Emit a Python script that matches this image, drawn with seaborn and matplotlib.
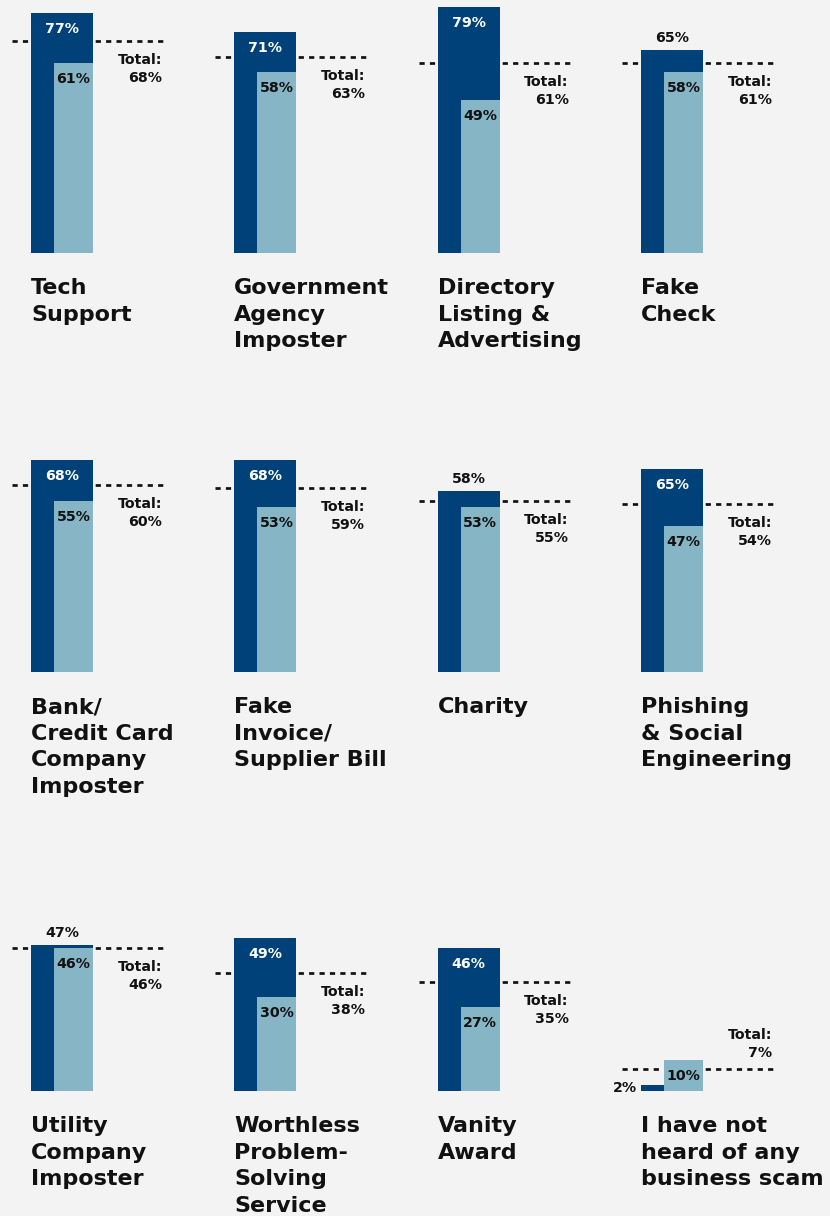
import matplotlib
matplotlib.use("Agg")
import matplotlib.pyplot as plt
import seaborn as sns

# Share of respondents who have heard of each business scam
categories = [
    "Tech\nSupport",
    "Government\nAgency\nImposter",
    "Directory\nListing &\nAdvertising",
    "Fake\nCheck",
    "Bank/\nCredit Card\nCompany\nImposter",
    "Fake\nInvoice/\nSupplier Bill",
    "Charity",
    "Phishing\n& Social\nEngineering",
    "Utility\nCompany\nImposter",
    "Worthless\nProblem-\nSolving\nService",
    "Vanity\nAward",
    "I have not\nheard of any\nbusiness scam",
]
group_a = [77, 71, 79, 65, 68, 68, 58, 65, 47, 49, 46, 2]
group_b = [61, 58, 49, 58, 55, 53, 53, 47, 46, 30, 27, 10]
totals = [68, 63, 61, 61, 60, 59, 55, 54, 46, 38, 35, 7]

BG = "#f2f3f2"
DARK = "#00417a"
LIGHT = "#86b5c5"
INK = "#111111"

sns.set_theme(style="white", rc={"figure.facecolor": BG, "axes.facecolor": BG})
plt.rcParams["font.family"] = ["DejaVu Sans"]

W, H = 830, 1216
fig = plt.figure(figsize=(W / 100, H / 100), dpi=100)
fig.patch.set_facecolor(BG)

PX_PER_PCT = 3.117
Y_TOP = 82
X_LEFT, X_RIGHT = -25, 175
DARK_W, LIGHT_W = 62, 39
LIGHT_X0 = 23

for i, name in enumerate(categories):
    r, c = divmod(i, 4)
    x0 = 31 + c * 203.33
    base = 253 + r * 419
    ax = fig.add_axes([
        (x0 + X_LEFT) / W,
        1 - base / H,
        (X_RIGHT - X_LEFT) / W,
        Y_TOP * PX_PER_PCT / H,
    ])
    a, b, t = group_a[i], group_b[i], totals[i]

    # total reference line, drawn behind the bars
    ax.plot([-19, 132], [t, t], color=INK, lw=1.95,
            linestyle=(0, (1.92, 1.92)), zorder=0.5, solid_capstyle="butt")

    sns.barplot(x=[DARK_W / 2], y=[a], native_scale=True, orient="x",
                width=DARK_W, color=DARK, saturation=1, errorbar=None,
                linewidth=0, edgecolor="none", ax=ax, zorder=1)
    sns.barplot(x=[LIGHT_X0 + LIGHT_W / 2], y=[b], native_scale=True,
                orient="x", width=LIGHT_W, color=LIGHT, saturation=1,
                errorbar=None, linewidth=0, edgecolor="none", ax=ax,
                zorder=2)

    ax.set_xlim(X_LEFT, X_RIGHT)
    ax.set_ylim(0, Y_TOP)
    ax.set_axis_off()

    num = dict(fontsize=10.2, fontweight="bold", textcoords="offset pixels",
               annotation_clip=False)

    # label for the dark bar
    if a < 5:
        ax.annotate(f"{a}%", xy=(0, a / 2), xytext=(-4, 0), ha="right",
                    va="center", color=INK, **num)
    elif a - b < 10:
        ax.annotate(f"{a}%", xy=(DARK_W / 2, a), xytext=(0, 12),
                    ha="center", va="center", color=INK, **num)
    else:
        ax.annotate(f"{a}%", xy=(DARK_W / 2, a), xytext=(0, -16),
                    ha="center", va="center", color="white", **num)

    # label for the light bar
    ax.annotate(f"{b}%", xy=(LIGHT_X0 + LIGHT_W / 2, b), xytext=(0, -16),
                ha="center", va="center", color=INK, **num)

    # total caption, below the line unless the light bar reaches above it
    if b <= t:
        offs = (-19, -37)
    else:
        offs = (34, 16)
    ax.annotate("Total:", xy=(131, t), xytext=(0, offs[0]), ha="right",
                va="center", color=INK, **num)
    ax.annotate(f"{t}%", xy=(131, t), xytext=(0, offs[1]), ha="right",
                va="center", color=INK, **num)

    # category name under the bars
    ax.annotate(name, xy=(0, 0), xytext=(0, -25), textcoords="offset pixels",
                ha="left", va="top", fontsize=16, fontweight="bold",
                color=INK, linespacing=1.42, annotation_clip=False)

fig.savefig("out.png", dpi=100, facecolor=BG)
